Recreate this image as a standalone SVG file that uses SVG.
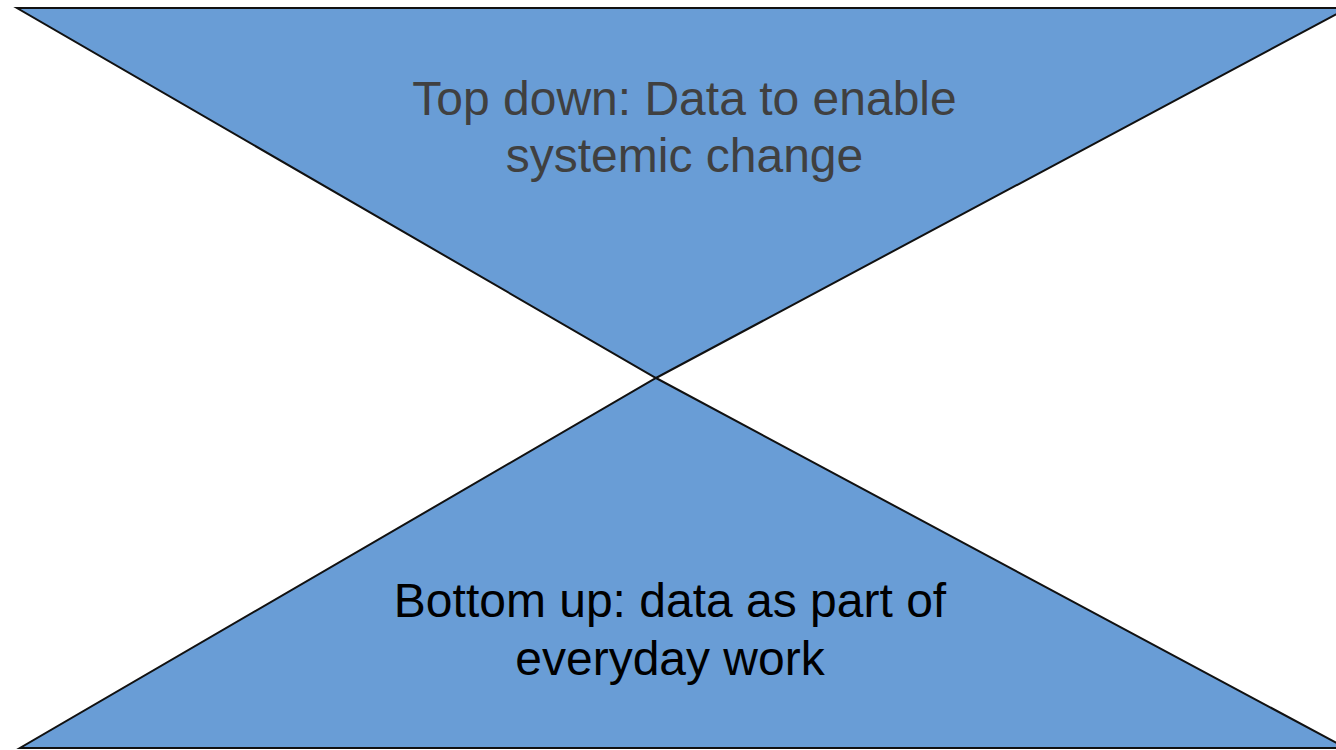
<svg xmlns="http://www.w3.org/2000/svg" width="1336" height="750" viewBox="0 0 1336 750">
<style>
.tri{fill:#699DD6;stroke:#111;stroke-width:2;stroke-linejoin:miter}
.lbl{font-family:"Liberation Sans",Arial,sans-serif;font-size:48px;text-anchor:middle}
</style>
<rect width="1336" height="750" fill="#fff"/>
<g id="top-down">
<polygon class="tri" points="17,8 1348,8 656,378"/>
<text class="lbl" fill="#404040"><tspan x="684.5" y="115">Top down: Data to enable</tspan><tspan x="684.5" y="172">systemic change</tspan></text>
</g>
<g id="bottom-up">
<polygon class="tri" points="656,378 1346,748 20,748"/>
<text class="lbl" fill="#000"><tspan x="670" y="617">Bottom up: data as part of</tspan><tspan x="670" y="675">everyday work</tspan></text>
</g>
<g id="connectors"/>
</svg>
